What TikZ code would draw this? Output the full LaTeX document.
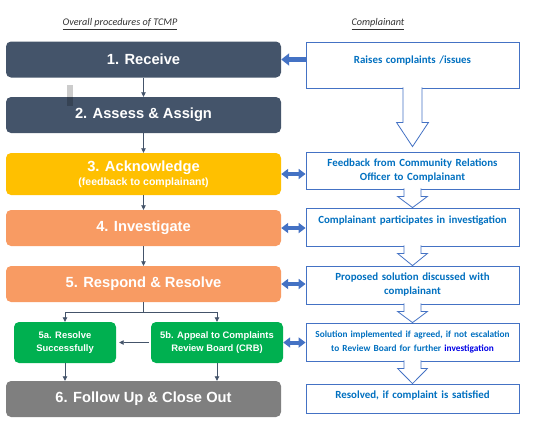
\documentclass[tikz,border=0pt]{standalone}
\usepackage{fontspec}
\setmainfont{Liberation Sans}
\newfontfamily\calibri{Carlito}
\usetikzlibrary{arrows.meta}

\definecolor{slate}{HTML}{44546A}
\definecolor{stepyellow}{HTML}{FFC000}
\definecolor{steporange}{HTML}{F89B63}
\definecolor{stepgreen}{HTML}{00B050}
\definecolor{stepgray}{HTML}{7F7F7F}
\definecolor{noteblue}{HTML}{4472C4}
\definecolor{notetext}{HTML}{0070C0}
\definecolor{linkblue}{HTML}{0000E6}

\begin{document}
\begin{tikzpicture}[x=1pt,y=-1pt,
        stepbox/.style={rounded corners=5pt, minimum width=275pt, minimum height=36pt, inner sep=0pt,
            text=white, align=center, font=\bfseries\fontsize{14.7}{17}\selectfont},
        subbox/.style={stepbox, fill=stepgreen, minimum width=#1, minimum height=41pt,
            font=\bfseries\fontsize{9.4}{13}\selectfont},
        note/.style={draw=noteblue, line width=0.8pt, fill=white, minimum width=213pt, text width=207pt,
            inner sep=3pt, align=center, text=notetext, font=\calibri\bfseries\fontsize{10.9}{14}\selectfont},
        header/.style={font=\calibri\itshape\fontsize{10.2}{12}\selectfont, text=black!80},
        flow/.style={draw=slate, line width=0.8pt, -{Triangle[width=4.5pt,length=4.5pt]}},
        link/.style={draw=noteblue, line width=4pt, {Triangle[width=10pt,length=7pt]}-{Triangle[width=10pt,length=7pt]}},
        push/.style={draw=noteblue, line width=5pt, -{Triangle[width=12pt,length=8pt]}},
        hollow/.style={draw=noteblue, line width=0.8pt, fill=white, line join=miter}
    ]
    \useasboundingbox (0,0) rectangle (556,437);

    % headers
    \node[header] (hsteps) at (120,24) {\underline{Overall procedures of TCMP}};
    \node[header] (hcomp) at (378,24) {\underline{Complainant}};

    % procedure steps
    \node[stepbox, fill=slate] (b1) at (143.5,59.5) {1. Receive};
    \node[stepbox, fill=slate] (b2) at (143.5,115) {2. Assess \& Assign};
    \node[stepbox, fill=stepyellow, minimum height=42pt] (b3) at (143.5,174)
        {3. Acknowledge\\[-3pt]{\fontsize{10.5}{12}\selectfont (feedback to complainant)}};
    \node[stepbox, fill=steporange] (b4) at (143.5,228) {4. Investigate};
    \node[stepbox, fill=steporange] (b5) at (143.5,284) {5. Respond \& Resolve};
    \node[subbox=102pt] (b5a) at (65,342.5) {5a. Resolve\\Successfully};
    \node[subbox=132pt] (b5b) at (217,342.5) {5b. Appeal to Complaints\\Review Board (CRB)};
    \node[stepbox, fill=stepgray] (b6) at (143.5,399) {6. Follow Up \& Close Out};
    \fill[black, opacity=0.2] (67,85) rectangle (73,106);

    % complainant side
    \node[note, minimum height=46pt, text depth=10.7pt] (r1) at (412.5,65) {Raises complaints /issues};
    \node[note, minimum height=37pt] (r2) at (412.5,170.5) {Feedback from Community Relations\\Officer to Complainant};
    \node[note, minimum height=38pt, text depth=14.7pt] (r3) at (412.5,227) {Complainant participates in investigation};
    \node[note, minimum height=38pt] (r4) at (412.5,285) {Proposed solution discussed with\\complainant};
    \node[note, minimum height=38pt, font=\calibri\bfseries\fontsize{9.3}{14}\selectfont] (r5) at (412.5,342)
        {Solution implemented if agreed, if not escalation\\to Review Board for further \textcolor{linkblue}{investigation}};
    \node[note, minimum height=29pt, text depth=7.7pt] (r6) at (412.5,398.5) {Resolved, if complaint is satisfied};

    % flow of steps
    \draw[flow] (b1) -- (b2);
    \draw[flow] (b2) -- (b3);
    \draw[flow] (b3) -- (b4);
    \draw[flow] (b4) -- (b5);
    \coordinate (split) at (143.5,312);
    \draw[draw=slate, line width=0.8pt] (b5) -- (split);
    \draw[flow] (split) -| (b5a);
    \draw[flow] (split) -| (b5b);
    \draw[flow, shorten <=2pt, shorten >=3pt] (b5b) -- (b5a);
    \draw[flow] (b5a) -- (b5a |- b6.north);
    \draw[flow] (b5b) -- (b5b |- b6.north);

    % links to complainant
    \draw[push] (r1.west |- b1.east) -- (b1.east);
    \foreach \l/\r in {b3/r2, b4/r3, b5/r4, b5b/r5}
        \draw[link] (\l.east) -- (\r.west |- \l.east);

    % hollow arrows
    \draw[hollow] ([shift={(-9.5,-1)}]r1.south) -- ++(0,35) -- ++(-6.5,0) -- ([shift={(0,-5)}]r2.north)
        -- ([shift={(16,34)}]r1.south) -- ++(-6.5,0) -- ++(0,-35);
    \foreach \a/\b in {r2/r3, r3/r4, r4/r5, r5/r6}
        \draw[hollow] ([shift={(-8.5,-1)}]\a.south) -- ++(0,8) -- ++(-6.5,0) -- (\b.north)
            -- ([shift={(15,7)}]\a.south) -- ++(-6.5,0) -- ++(0,-8);
\end{tikzpicture}
\end{document}
